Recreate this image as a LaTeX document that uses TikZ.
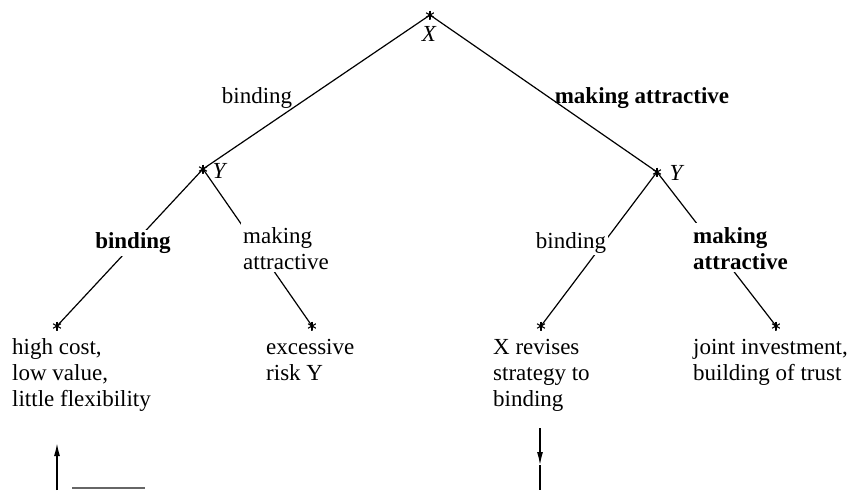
\documentclass[tikz,border=0pt]{standalone}
\usepackage{fontspec}
\setmainfont{Liberation Serif}
\usetikzlibrary{arrows.meta}
\begin{document}
\begin{tikzpicture}[x=1pt,y=-1pt,
  txt/.style={font=\fontsize{23}{26}\selectfont, inner sep=0pt},
  boldtxt/.style={font=\fontsize{23}{26}\selectfont\bfseries, inner sep=0pt},
  lbl/.style={fill=white, inner sep=2pt, align=left},
  leaftxt/.style={txt, align=left, anchor=north west},
  br/.style={line width=1.2pt},
  tipa/.style={-{Latex[length=13pt,width=6pt]}},
  vtx/.style={circle, inner sep=0pt, minimum size=10pt,
    path picture={
      \foreach \a in {90,30,150}{
        \draw[line width=1.1pt] (path picture bounding box.center) ++(\a:4.5pt) -- ++(\a+180:9pt);
      }}},
]
\useasboundingbox (0,0) rectangle (867,490);

% decision points
\node[vtx] (r)   at (430,15)  {};
\node[vtx] (yL)  at (203,169) {};
\node[vtx] (yR)  at (657,172) {};
\node[vtx] (lLL) at (57,326)  {};
\node[vtx] (lLR) at (312,326) {};
\node[vtx] (lRL) at (541,326) {};
\node[vtx] (lRR) at (776,326) {};

% player names
\node[txt] (nX)  at (429,34)  {\itshape X};
\node[txt] (nYL) at (219,171) {\itshape Y};
\node[txt] (nYR) at (676,173) {\itshape Y};

% branches
\draw[br] (r.center) -- (yL.center);
\draw[br] (r.center) -- (yR.center);
\draw[br] (yL.center) -- (lLL.center);
\draw[br] (yL.center) -- (lLR.center);
\draw[br] (yR.center) -- (lRL.center);
\draw[br] (yR.center) -- (lRR.center);

% move labels
\node[txt] (mX1) at (257,98)  {binding};
\node[boldtxt] (mX2) at (642,98)  {making attractive};
\node[boldtxt, lbl] (mL1) at (133,243) {binding};
\node[txt, lbl, anchor=north west] (mL2) at (241,223) {\strut making\\attractive};
\node[txt, lbl] (mR1) at (571,243) {binding};
\node[boldtxt, lbl, anchor=north west] (mR2) at (691,223) {\strut making\\attractive};

% outcomes
\node[leaftxt] (oLL) at (12,336)  {\strut high cost,\\low value,\\little flexibility};
\node[leaftxt] (oLR) at (266,336) {\strut excessive\\risk Y};
\node[leaftxt] (oRL) at (493,336) {\strut X revises\\strategy to\\binding};
\node[leaftxt] (oRR) at (693,336) {\strut joint investment,\\building of trust};

% feedback loop
\coordinate (fL0) at (57,490);
\coordinate (fL1) at (57,443);
\draw[br, line width=1.6pt, tipa] (fL0) -- (fL1);
\coordinate (fR0) at (540,428);
\coordinate (fR1) at (540,465);
\coordinate (fR2) at (540,490);
\draw[br, tipa] (fR0) -- (fR1);
\draw[br, line width=1.6pt] (fR1) -- (fR2);
\coordinate (fB0) at (72,488);
\coordinate (fB1) at (145,488);
\draw[line width=1.2pt, black!60] (fB0) -- (fB1);
\end{tikzpicture}
\end{document}
